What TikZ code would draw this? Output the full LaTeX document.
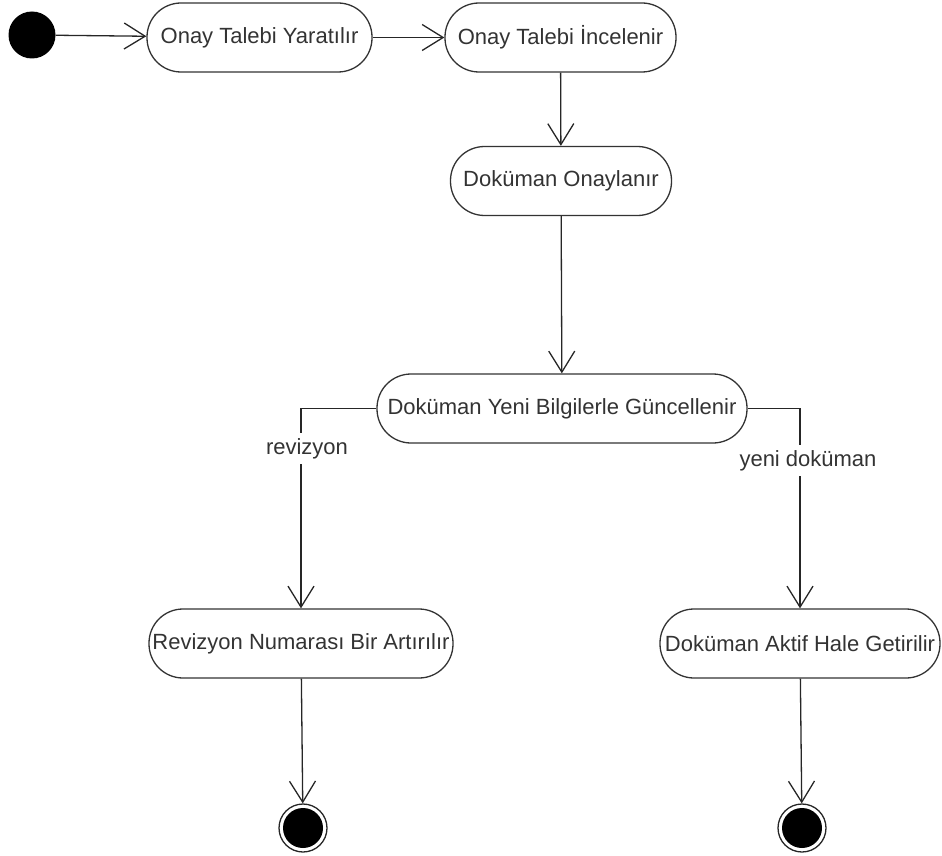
\documentclass[tikz,border=0pt]{standalone}
\usepackage{fontspec}
\setmainfont{Liberation Sans}
\usetikzlibrary{arrows.meta}

\begin{document}
\begin{tikzpicture}[x=1pt, y=-1pt,
    activity/.style={draw=black!80, line width=1.3pt, rounded corners=34pt,
        minimum height=69pt, inner sep=0pt, text=black!80,
        font=\fontsize{22}{26}\selectfont},
    flow/.style={draw=black!85, line width=1.3pt,
        -{Straight Barb[length=21pt, width=26pt, line width=1.3pt]}},
    guard/.style={fill=white, inner sep=5pt, text=black!80,
        font=\fontsize{22}{26}\selectfont}]
    \useasboundingbox (0,0) rectangle (942,856);

    % Start and activities
    \node[circle, fill=black, minimum size=47pt, inner sep=0pt] (start) at (32,35) {};
    \node[activity, minimum width=225pt] (yarat) at (259.5,37.5) {Onay Talebi Yaratılır};
    \node[activity, minimum width=231pt] (incele) at (560.5,37.5) {Onay Talebi İncelenir};
    \node[activity, minimum width=221pt] (onay) at (561,181) {Doküman Onaylanır};
    \node[activity, minimum width=370pt] (guncelle) at (562,408.5) {Doküman Yeni Bilgilerle Güncellenir};
    \node[activity, minimum width=304pt] (revizyon) at (301,643.5) {Revizyon Numarası Bir Artırılır};
    \node[activity, minimum width=280pt] (aktif) at (800,643.5) {Doküman Aktif Hale Getirilir};

    % Final states
    \foreach \name/\x in {endA/303, endB/802} {
        \node[circle, draw=black!85, line width=1.3pt, minimum size=48pt, inner sep=0pt] (\name) at (\x,828) {};
        \fill[black] (\name.center) circle (20pt);
    }

    % Flows
    \draw[flow] (start) -- (yarat);
    \draw[flow] (yarat) -- (incele);
    \draw[flow] (incele) -- (onay);
    \draw[flow] (onay) -- (guncelle);
    \draw[flow] (guncelle.west) -| node[guard, pos=0.6, xshift=6pt] {revizyon} (revizyon.north);
    \draw[flow] (guncelle.east) -| node[guard, pos=0.63, xshift=8pt] {yeni doküman} (aktif.north);
    \draw[flow] (revizyon) -- (endA);
    \draw[flow] (aktif) -- (endB);
\end{tikzpicture}
\end{document}
